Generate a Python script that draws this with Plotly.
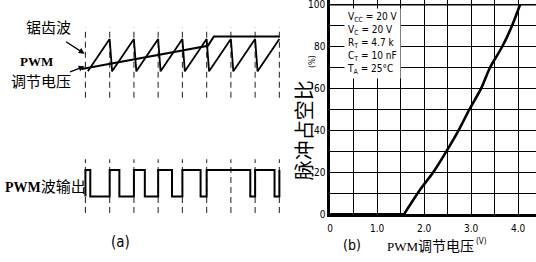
import plotly.graph_objects as go

# ---------------- data: chart (b) ----------------
flat_v = [0, 1.57]
flat_d = [0, 0]
volt = [1.57, 1.92, 2.19, 2.47, 2.73, 2.96, 3.21, 3.40, 3.66, 3.87, 4.04]
duty = [0, 12, 20, 30, 40, 50, 60, 70, 80, 90, 100]
x_ticks = [0, 0.5, 1.0, 1.5, 2.0, 2.5, 3.0, 3.5, 4.0]
x_ticktext = ["0", "", "1.0", "", "2.0", "", "3.0", "", "4.0"]
y_label_step = 20
y_grid_step = 10
y_max = 100
cond_lines = ["V<sub>CC</sub> = 20 V", "V<sub>C</sub> = 20 V", "R<sub>T</sub> = 4.7 k",
              "C<sub>T</sub> = 10 nF", "T<sub>A</sub> = 25°C"]

# ---------------- data: schematic (a) ----------------
period_marks = [0, 1, 2, 3, 4, 5, 6, 7, 8]
saw_t = [0.1, 1.0, 1.1, 2.0, 2.1, 3.0, 3.1, 4.0, 4.1, 5.0, 5.1, 6.0, 6.1, 7.0, 7.1, 8.0]
saw_v = [0, 1, 0, 1, 0, 1, 0, 1, 0, 1, 0, 1, 0, 1, 0, 1]
ctrl_t = [-0.15, 5.05, 5.3, 8.0]
ctrl_v = [0.07, 0.79, 1.08, 1.08]
out_edges = [0, 0.2, 1.0, 1.4, 2.0, 2.45, 3.0, 3.57, 4.0, 4.75, 5.0, 6.8, 7.0, 7.8, 8.0]
out_levels = [1, 0, 1, 0, 1, 0, 1, 0, 1, 0, 1, 0, 1, 0, 1]

W, H = 536, 262
CJK = "Noto Sans CJK SC, Noto Sans CJK JP, sans-serif"
NARROW = "Liberation Sans Narrow, DejaVu Sans Condensed, Liberation Sans, sans-serif"

fig = go.Figure()

# ---- chart (b) ----
fig.add_trace(go.Scatter(x=flat_v, y=flat_d, mode="lines", xaxis="x", yaxis="y",
                         line=dict(color="black", width=3), showlegend=False,
                         hoverinfo="skip", cliponaxis=False))
fig.add_trace(go.Scatter(x=volt, y=duty, mode="lines", xaxis="x", yaxis="y",
                         line=dict(color="black", width=2.6, shape="spline", smoothing=0.8),
                         showlegend=False, hoverinfo="skip"))

# ---- schematic (a): dashed period marks ----
def dashed(lo, hi):
    xs, ys = [], []
    for t in period_marks:
        xs += [t, t, None]
        ys += [lo, hi, None]
    return xs, ys

dx, dy = dashed(-0.82, 1.36)
fig.add_trace(go.Scatter(x=dx, y=dy, mode="lines", xaxis="x2", yaxis="y2",
                         line=dict(color="#333", width=1.1, dash="6px,4px"),
                         showlegend=False, hoverinfo="skip"))
dx, dy = dashed(-0.63, 1.41)
fig.add_trace(go.Scatter(x=dx, y=dy, mode="lines", xaxis="x3", yaxis="y3",
                         line=dict(color="#333", width=1.1, dash="6px,4px"),
                         showlegend=False, hoverinfo="skip"))

fig.add_trace(go.Scatter(x=saw_t, y=saw_v, mode="lines", xaxis="x2", yaxis="y2",
                         line=dict(color="black", width=1.8), showlegend=False,
                         hoverinfo="skip"))
fig.add_trace(go.Scatter(x=ctrl_t, y=ctrl_v, mode="lines", xaxis="x2", yaxis="y2",
                         line=dict(color="black", width=2), showlegend=False,
                         hoverinfo="skip"))

ox = [out_edges[0]] + out_edges
oy = [0] + out_levels
fig.add_trace(go.Scatter(x=ox, y=oy, mode="lines", line_shape="hv", xaxis="x3", yaxis="y3",
                         line=dict(color="black", width=2), showlegend=False,
                         hoverinfo="skip"))

def px(x):
    return x / W

def py(y):
    return 1 - y / H

ann = []
def text(s, x, y, size, family=CJK, angle=0, xanchor="center", **kw):
    ann.append(dict(text=s, x=px(x), y=py(y), xref="paper", yref="paper",
                    xanchor=xanchor, yanchor="middle", showarrow=False,
                    textangle=angle, font=dict(size=size, family=family, color="black"), **kw))

def arrow(hx, hy, tx, ty):
    ann.append(dict(text="", x=px(hx), y=py(hy), ax=tx - hx, ay=ty - hy,
                    xref="paper", yref="paper", showarrow=True, arrowhead=2,
                    arrowsize=0.9, arrowwidth=1.3, arrowcolor="black"))

# left labels
text("锯齿波", 46, 27, 15)
arrow(82, 55, 62, 42)
text("<b>PWM</b>", 34, 63, 13, family="Liberation Serif, serif")
text("调节电压", 38, 82, 15)
arrow(82, 68, 66, 74)
text("<span style='font-family:Liberation Serif;font-size:14px'><b>PWM</b></span>波输出", 43, 190, 15)
text("(a)", 118, 248, 15, family=NARROW)

# right labels
text("脉冲占空比", 303, 133, 20, angle=-90)
text("(%)", 311, 63, 8, family=NARROW, angle=-90)
text("(b)", 351, 251, 14, family=NARROW)
text("<span style='font-family:Liberation Serif;font-size:13px'>PWM</span>调节电压", 430, 251, 14)
text("(V)", 481, 247, 8, family=NARROW)

# top tick label (100) that sits at the very top edge of the plot
ann.append(dict(text=str(y_max), x=px(326), y=y_max, xref="paper", yref="y",
                xanchor="right", yanchor="middle", showarrow=False,
                font=dict(size=10, family=NARROW, color="black")))

ann.append(dict(text="<br>".join(cond_lines), x=px(343), y=py(45), xref="paper", yref="paper",
                xanchor="left", yanchor="middle", align="left", showarrow=False,
                bgcolor="white", borderpad=2,
                font=dict(size=10, family=NARROW, color="black")))

R_L = 329
fig.update_layout(
    width=W, height=H, margin=dict(l=0, r=0, t=0, b=0),
    paper_bgcolor="white", plot_bgcolor="white",
    showlegend=False,
    annotations=ann,
    shapes=[dict(type="line", xref="x domain", yref="y", x0=0, x1=1, y0=y_max, y1=y_max,
                 line=dict(color="black", width=1.4), layer="below")],
    xaxis=dict(domain=[px(R_L), 1.0], range=[0, 4.38], tickmode="array",
               tickvals=x_ticks, ticktext=x_ticktext, showgrid=True,
               gridcolor="black", gridwidth=1.4, zeroline=False, showline=True,
               linecolor="black", linewidth=2.5, ticks="", ticklabelstandoff=3,
               tickfont=dict(size=10, family=NARROW, color="black"), anchor="y"),
    yaxis=dict(domain=[py(219.5), 1.0], range=[0, 102.3], tickmode="linear",
               tick0=0, dtick=y_label_step, showgrid=True,
               gridcolor="black", gridwidth=1.4, zeroline=False, showline=True,
               linecolor="black", linewidth=2.5, ticks="",
               minor=dict(tickmode="linear", tick0=0, dtick=y_grid_step, showgrid=True,
                          gridcolor="black", gridwidth=1.4, ticks=""),
               tickfont=dict(size=10, family=NARROW, color="black"), anchor="x"),
    xaxis2=dict(domain=[0, px(295)], range=[-3.4, 8.7], visible=False, anchor="y2"),
    yaxis2=dict(domain=[py(110), py(20)], range=[-1.121, 1.606], visible=False, anchor="x2"),
    xaxis3=dict(domain=[0, px(295)], range=[-3.4, 8.7], visible=False, anchor="y3"),
    yaxis3=dict(domain=[py(225), py(155)], range=[-0.889, 1.704], visible=False, anchor="x3"),
)

fig.write_html("out.html")
